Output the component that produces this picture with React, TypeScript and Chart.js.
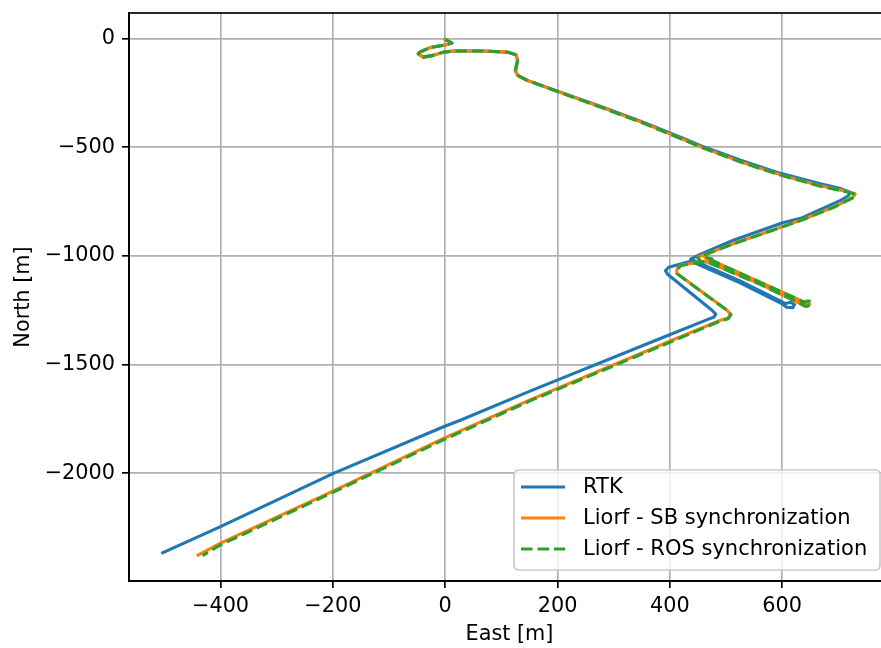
import React, { useEffect, useRef } from 'react';
import { Chart, registerables } from 'chart.js';

Chart.register(...registerables);

// ---- Data (metres) ----
const seriesLabels = ['RTK', 'Liorf - SB synchronization', 'Liorf - ROS synchronization'];
const seriesColors = ['#1f77b4', '#ff7f0e', '#2ca02c'];
const xAxisTitle = 'East [m]';
const yAxisTitle = 'North [m]';

const rtkEast = [0, 12, 0, -27, -45, -48, -39, -21, -3, 15, 68, 110, 126, 129, 125, 129, 146, 205,
  276, 348, 419, 455, 526, 597, 668, 704, 721, 718, 704, 633, 601, 513, 455, 437,
  526, 606, 615, 622, 619, 608, 601, 526, 437,
  398, 392, 396, 475, 482, 478, 469, 383, 152, 27, -3, -199, -401, -503];
const rtkNorth = [-3, -20, -29, -41, -62, -70, -85, -77, -62, -57, -57, -62, -74, -100, -146, -169, -192, -247,
  -311, -380, -454, -493, -560, -620, -668, -690, -707, -723, -744, -827, -847, -928, -992, -1015,
  -1116, -1219, -1213, -1224, -1238, -1236, -1222, -1125, -1024,
  -1052, -1068, -1084, -1250, -1268, -1282, -1291, -1380, -1621, -1756, -1786, -2001, -2247, -2366];

const sbEast = [0, 12, 0, -27, -45, -48, -39, -21, -3, 15, 68, 110, 126, 129, 125, 129, 146, 205,
  276, 348, 419, 455, 526, 597, 668, 713, 730, 726, 713, 692, 633, 573, 514, 467, 449,
  456, 472, 474, 462,
  561, 638, 646, 649, 640, 631, 561, 463,
  419, 413, 412, 502, 508, 503, 490, 404, 152, -3, -199, -401, -440];
const sbNorth = [-3, -20, -29, -41, -62, -70, -85, -77, -62, -57, -57, -62, -74, -100, -146, -169, -192, -247,
  -314, -383, -459, -498, -567, -627, -677, -702, -714, -730, -748, -775, -836, -890, -943, -989, -1006,
  -1029, -1029, -1013, -1006,
  -1121, -1211, -1206, -1222, -1231, -1218, -1130, -1024,
  -1043, -1059, -1080, -1250, -1268, -1287, -1296, -1388, -1661, -1840, -2081, -2323, -2377];

const rosEast = [0, 12, 0, -27, -45, -48, -39, -21, -3, 15, 68, 110, 126, 129, 125, 129, 146, 205,
  276, 348, 419, 455, 526, 597, 668, 713, 731, 727, 713, 692, 633, 573, 514, 467, 449,
  457, 473, 475, 463,
  562, 640, 649, 652, 643, 633, 562, 464,
  420, 414, 413, 503, 509, 504, 491, 404, 152, -3, -199, -401, -432];
const rosNorth = [-3, -20, -29, -41, -62, -70, -85, -77, -62, -57, -57, -62, -74, -100, -146, -169, -192, -248,
  -315, -384, -460, -499, -568, -628, -679, -704, -716, -731, -749, -776, -837, -891, -944, -990, -1007,
  -1030, -1030, -1014, -1007,
  -1123, -1214, -1208, -1224, -1233, -1220, -1132, -1025,
  -1044, -1061, -1082, -1252, -1270, -1289, -1298, -1393, -1666, -1846, -2087, -2331, -2379];

const xTickValues = [-400, -200, 0, 200, 400, 600];
const yTickValues = [0, -500, -1000, -1500, -2000];
const xMin = -563;
const xMax = 792;
const yMin = -2496;
const yMax = 118;

const FONT = '"DejaVu Sans", "Liberation Sans", sans-serif';
const FS = 20.8;

const toPoints = (xs: number[], ys: number[]) => xs.map((x, i) => ({ x, y: ys[i] }));
const fmt = (v: number | string) => {
  const n = Number(v);
  return n < 0 ? '\u2212' + Math.abs(n) : String(n);
};

const framePlugin = {
  id: 'frame',
  afterDatasetsDraw(chart: any) {
    const { ctx, chartArea } = chart;
    ctx.save();
    ctx.strokeStyle = '#000';
    ctx.lineWidth = 1.67;
    ctx.strokeRect(chartArea.left, chartArea.top, chartArea.right - chartArea.left, chartArea.bottom - chartArea.top);
    ctx.restore();
  },
};

const legendPlugin = {
  id: 'boxLegend',
  afterDraw(chart: any) {
    const { ctx } = chart;
    const x0 = 514, y0 = 470, w = 366, h = 100, r = 5;
    ctx.save();
    ctx.beginPath();
    ctx.moveTo(x0 + r, y0);
    ctx.lineTo(x0 + w - r, y0);
    ctx.quadraticCurveTo(x0 + w, y0, x0 + w, y0 + r);
    ctx.lineTo(x0 + w, y0 + h - r);
    ctx.quadraticCurveTo(x0 + w, y0 + h, x0 + w - r, y0 + h);
    ctx.lineTo(x0 + r, y0 + h);
    ctx.quadraticCurveTo(x0, y0 + h, x0, y0 + h - r);
    ctx.lineTo(x0, y0 + r);
    ctx.quadraticCurveTo(x0, y0, x0 + r, y0);
    ctx.closePath();
    ctx.fillStyle = 'rgba(255,255,255,0.8)';
    ctx.fill();
    ctx.strokeStyle = '#cccccc';
    ctx.lineWidth = 1.67;
    ctx.stroke();
    chart.data.datasets.forEach((ds: any, i: number) => {
      const y = 487 + i * 31;
      ctx.beginPath();
      ctx.strokeStyle = ds.borderColor;
      ctx.lineWidth = ds.borderWidth;
      ctx.setLineDash(ds.borderDash || []);
      ctx.lineCap = 'butt';
      ctx.moveTo(521, y);
      ctx.lineTo(565, y);
      ctx.stroke();
      ctx.setLineDash([]);
      ctx.fillStyle = '#000';
      ctx.font = `21px ${FONT}`;
      ctx.textBaseline = 'middle';
      ctx.textAlign = 'left';
      ctx.fillText(ds.label, 583, y + 1);
    });
    ctx.restore();
  },
};

export default function App() {
  const ref = useRef<HTMLCanvasElement | null>(null);

  useEffect(() => {
    if (!ref.current) return;
    const seriesData = [
      toPoints(rtkEast, rtkNorth),
      toPoints(sbEast, sbNorth),
      toPoints(rosEast, rosNorth),
    ];
    const chart = new Chart(ref.current, {
      type: 'scatter',
      data: {
        datasets: seriesData.map((d, i) => ({
          label: seriesLabels[i],
          data: d,
          order: 2 - i,
          showLine: true,
          pointRadius: 0,
          pointHoverRadius: 0,
          borderColor: seriesColors[i],
          backgroundColor: seriesColors[i],
          borderWidth: 3.1,
          borderDash: i === 2 ? [11.5, 5] : [],
          borderJoinStyle: 'round',
          borderCapStyle: i === 2 ? 'butt' : 'square',
          tension: 0,
          fill: false,
        })) as any,
      },
      options: {
        responsive: false,
        animation: false,
        events: [],
        layout: { padding: { top: 13, right: 0, left: 0, bottom: 0 } },
        plugins: { legend: { display: false }, tooltip: { enabled: false } },
        scales: {
          x: {
            type: 'linear',
            min: xMin,
            max: xMax,
            afterBuildTicks: (s: any) => { s.ticks = xTickValues.map((value) => ({ value })); },
            ticks: {
              padding: 6,
              color: '#000',
              font: { family: FONT, size: FS },
              maxRotation: 0,
              autoSkip: false,
              callback: (v: any) => fmt(v),
            },
            grid: { color: '#b0b0b0', lineWidth: 1.67, tickLength: 7, tickColor: '#000', tickWidth: 1.67 },
            border: { color: '#000', width: 1.67 },
            title: {
              display: true,
              text: xAxisTitle,
              color: '#000',
              font: { family: FONT, size: FS },
              padding: { top: 0, bottom: 1 },
            },
            afterFit: (s: any) => { s.height = 67; s.paddingLeft = 0; s.paddingRight = 0; },
          },
          y: {
            type: 'linear',
            min: yMin,
            max: yMax,
            afterBuildTicks: (s: any) => { s.ticks = yTickValues.map((value) => ({ value })); },
            ticks: {
              padding: 7,
              color: '#000',
              font: { family: FONT, size: FS },
              autoSkip: false,
              callback: (v: any) => fmt(v),
            },
            grid: { color: '#b0b0b0', lineWidth: 1.67, tickLength: 7, tickColor: '#000', tickWidth: 1.67 },
            border: { color: '#000', width: 1.67 },
            title: {
              display: true,
              text: yAxisTitle,
              color: '#000',
              font: { family: FONT, size: FS },
              padding: { top: 11, bottom: 0 },
            },
            afterFit: (s: any) => { s.width = 129; s.paddingTop = 0; s.paddingBottom = 0; },
          },
        },
      } as any,
      plugins: [framePlugin, legendPlugin],
    });
    return () => chart.destroy();
  }, []);

  return (
    <div style={{ position: 'absolute', left: 0, top: 0, width: 881, height: 648, overflow: 'hidden', background: '#fff' }}>
      <canvas ref={ref} width={890} height={648} style={{ width: 890, height: 648, display: 'block' }} />
    </div>
  );
}
